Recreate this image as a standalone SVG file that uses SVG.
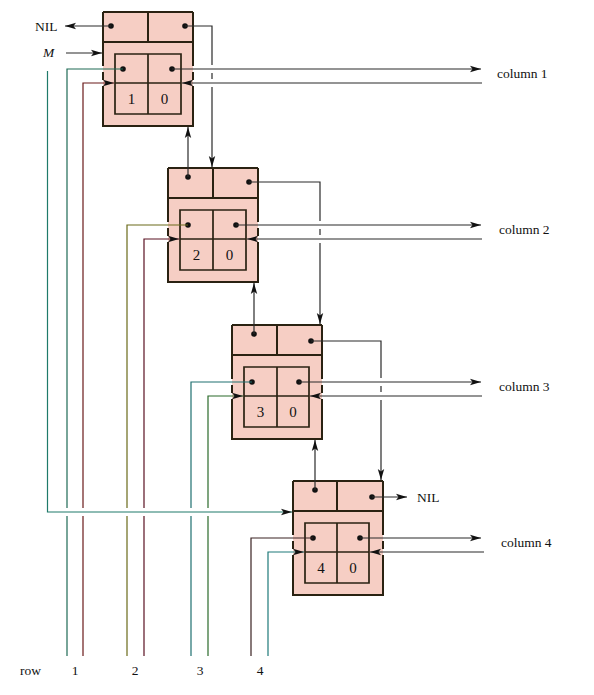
<svg xmlns="http://www.w3.org/2000/svg" width="594" height="695" viewBox="0 0 594 695">
<defs>
<marker id="ah" markerUnits="userSpaceOnUse" markerWidth="12" markerHeight="8" refX="11" refY="4" orient="auto">
<path d="M0,0.8 L11,4 L0,7.2 L2.5,4 Z" fill="#111"/>
</marker>
<style>
.fill{fill:#f6cec4;stroke:none}
.edge{fill:none;stroke:#2a2212;stroke-width:2}
.in{fill:none;stroke:#2a2212;stroke-width:1.7}
.w{fill:none;stroke-width:1.2;stroke:#2a2a2a}
.a{marker-end:url(#ah)}
.dot{fill:#111}
.t{font-family:"Liberation Serif","Times New Roman",serif;font-size:13.5px;fill:#111}
.d{font-family:"Liberation Serif","Times New Roman",serif;font-size:15px;fill:#111;text-anchor:middle}
</style>
</defs>
<rect width="594" height="695" fill="#fff"/>

<g id="node1">
<rect class="fill" x="103" y="12" width="90" height="114"/>
<path class="edge" d="M103,12 H193 M103,12 V66 M103,72 V80 M103,86 V126 H193 V86 M193,80 V72 M193,66 V12 M103,42 H193 M148,12 V42"/>
<path class="in" d="M115,54 H181 V114 H115 Z M115,83 H181 M148,54 V114"/>
<circle class="dot" cx="111" cy="26" r="2.8"/>
<circle class="dot" cx="185" cy="26" r="2.8"/>
<circle class="dot" cx="123" cy="69" r="2.8"/>
<circle class="dot" cx="172" cy="69" r="2.8"/>
<text class="d" x="131.5" y="104">1</text>
<text class="d" x="164.5" y="104">0</text>
</g>

<g id="node2">
<rect class="fill" x="168" y="168" width="90" height="114"/>
<path class="edge" d="M168,168 H258 M168,168 V222 M168,228 V236 M168,242 V282 H258 V242 M258,236 V228 M258,222 V168 M168,198 H258 M213,168 V198"/>
<path class="in" d="M180,210 H246 V270 H180 Z M180,239 H246 M213,210 V270"/>
<circle class="dot" cx="188" cy="177" r="2.8"/>
<circle class="dot" cx="249" cy="182" r="2.8"/>
<circle class="dot" cx="188" cy="225" r="2.8"/>
<circle class="dot" cx="236" cy="225" r="2.8"/>
<text class="d" x="196.5" y="260">2</text>
<text class="d" x="229.5" y="260">0</text>
</g>

<g id="node3">
<rect class="fill" x="232" y="325" width="90" height="114"/>
<path class="edge" d="M232,325 H322 M232,325 V379 M232,385 V393 M232,399 V439 H322 V399 M322,393 V385 M322,379 V325 M232,355 H322 M277,325 V355"/>
<path class="in" d="M244,367 H309 V427 H244 Z M244,396 H309 M277,367 V427"/>
<circle class="dot" cx="254" cy="334" r="2.8"/>
<circle class="dot" cx="311" cy="341" r="2.8"/>
<circle class="dot" cx="252" cy="382" r="2.8"/>
<circle class="dot" cx="299" cy="382" r="2.8"/>
<text class="d" x="260.5" y="417">3</text>
<text class="d" x="293" y="417">0</text>
</g>

<g id="node4">
<rect class="fill" x="293" y="481" width="90" height="114"/>
<path class="edge" d="M293,481 H383 M293,481 V535 M293,541 V549 M293,555 V595 H383 V555 M383,549 V541 M383,535 V481 M293,511 H383 M337,481 V511"/>
<path class="in" d="M305,523 H369 V583 H305 Z M305,552 H369 M337,523 V583"/>
<circle class="dot" cx="315" cy="490" r="2.8"/>
<circle class="dot" cx="372" cy="497" r="2.8"/>
<circle class="dot" cx="313" cy="538" r="2.8"/>
<circle class="dot" cx="360" cy="538" r="2.8"/>
<text class="d" x="321" y="573">4</text>
<text class="d" x="353" y="573">0</text>
</g>

<g id="connectors">
<path class="w a" d="M111,26 H65"/>
<path class="w a" d="M66,53 H102"/>
<path class="w a" d="M185,26 H212 V65 M212,73 V79 M212,87 V167"/>
<path class="w a" d="M249,182 H320 V221 M320,229 V235 M320,243 V324"/>
<path class="w a" d="M311,341 H381 V378 M381,386 V392 M381,400 V480"/>
<path class="w a" d="M372,497 H407"/>
<path class="w a" d="M188,177 V127"/>
<path class="w a" d="M254,334 V283"/>
<path class="w a" d="M315,490 V440"/>
<path class="w a" style="stroke:#1f7a6a" d="M47.5,71 V512 H292"/>
<path class="w" style="stroke:#1f6a55" d="M123,69 H67 V508 M67,516 V656"/>
<path class="w a" style="stroke:#6a1a1a" d="M83,656 V516 M83,508 V83 H114"/>
<path class="w" style="stroke:#6a6a1a" d="M188,225 H127 V508 M127,516 V656"/>
<path class="w a" style="stroke:#5a1222" d="M144,656 V516 M144,508 V239 H179"/>
<path class="w" style="stroke:#1f7070" d="M252,382 H191 V508 M191,516 V656"/>
<path class="w a" style="stroke:#2a6a2a" d="M208,656 V516 M208,508 V396 H243"/>
<path class="w" style="stroke:#3a2222" d="M313,538 H251 V656"/>
<path class="w a" style="stroke:#1f7a7a" d="M268,656 V552 H304"/>
<path class="w a" d="M172,69 H481"/>
<path class="w a" d="M482,83 H182"/>
<path class="w a" d="M236,225 H481"/>
<path class="w a" d="M482,239 H247"/>
<path class="w a" d="M299,382 H481"/>
<path class="w a" d="M482,396 H310"/>
<path class="w a" d="M360,538 H481"/>
<path class="w a" d="M484,552 H370"/>
</g>

<g id="labels">
<text class="t" x="35" y="31">NIL</text>
<text class="t" x="43" y="57" style="font-style:italic">M</text>
<text class="t" x="417" y="502">NIL</text>
<text class="t" x="497" y="78">column  1</text>
<text class="t" x="499" y="234">column  2</text>
<text class="t" x="499" y="391">column  3</text>
<text class="t" x="501" y="547">column  4</text>
<text class="t" x="20" y="675">row</text>
<text class="t" x="75" y="675" text-anchor="middle">1</text>
<text class="t" x="135" y="675" text-anchor="middle">2</text>
<text class="t" x="200" y="675" text-anchor="middle">3</text>
<text class="t" x="260" y="675" text-anchor="middle">4</text>
</g>
</svg>
